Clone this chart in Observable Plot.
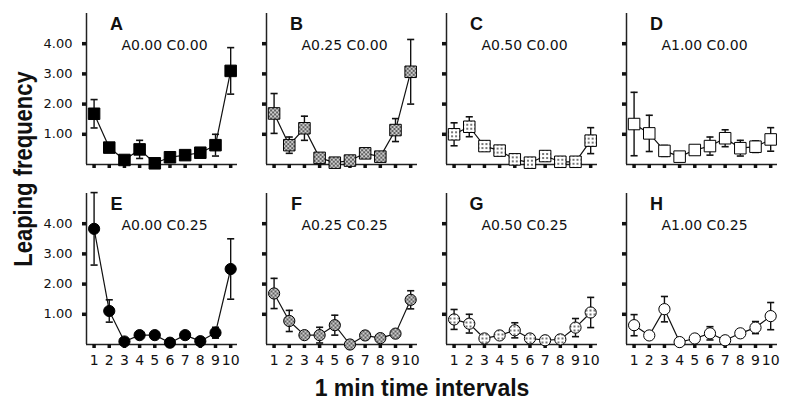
<!DOCTYPE html>
<html><head><meta charset="utf-8">
<script src="https://cdn.jsdelivr.net/npm/d3@7"></script>
<script src="https://cdn.jsdelivr.net/npm/@observablehq/plot@0.6"></script>
<style>
html,body{margin:0;padding:0;background:#fff;}
#chart{width:792px;height:408px;}
</style></head><body><div id="chart"></div>
<script>
const intervals = [1,2,3,4,5,6,7,8,9,10];
const panelLetters = ["A","B","C","D","E","F","G","H"];
const aLevels = ["0.00","0.25","0.50","1.00","0.00","0.25","0.50","1.00"];
const cLevels = ["0.00","0.00","0.00","0.00","0.25","0.25","0.25","0.25"];
const yTicks = [1,2,3,4];

const meanA = [1.68,0.56,0.15,0.50,0.04,0.24,0.31,0.39,0.64,3.10];
const errA  = [0.47,0.10,0.05,0.30,0.03,0.10,0.10,0.10,0.36,0.77];
const meanB = [1.69,0.64,1.20,0.22,0.06,0.13,0.37,0.26,1.14,3.07];
const errB  = [0.66,0.27,0.40,0.05,0.03,0.05,0.10,0.10,0.38,1.07];
const meanC = [1.00,1.25,0.61,0.46,0.17,0.06,0.28,0.09,0.09,0.79];
const errC  = [0.38,0.33,0.10,0.05,0.05,0.03,0.10,0.03,0.03,0.43];
const meanD = [1.34,1.03,0.45,0.26,0.48,0.61,0.87,0.54,0.59,0.83];
const errD  = [1.05,0.60,0.18,0.10,0.10,0.30,0.28,0.26,0.19,0.39];
const meanE = [3.83,1.11,0.10,0.31,0.31,0.06,0.31,0.11,0.39,2.50];
const errE  = [1.20,0.37,0.05,0.10,0.10,0.03,0.10,0.05,0.18,1.00];
const meanF = [1.69,0.78,0.31,0.31,0.64,0.00,0.30,0.21,0.36,1.48];
const errF  = [0.50,0.35,0.05,0.26,0.33,0.03,0.05,0.05,0.10,0.30];
const meanG = [0.83,0.69,0.20,0.30,0.47,0.20,0.14,0.17,0.56,1.06];
const errG  = [0.33,0.31,0.05,0.05,0.25,0.05,0.05,0.05,0.30,0.50];
const meanH = [0.64,0.30,1.17,0.08,0.20,0.37,0.14,0.37,0.56,0.94];
const errH  = [0.35,0.05,0.42,0.03,0.05,0.22,0.05,0.05,0.20,0.45];

const yLabel = "Leaping frequency";
const xLabel = "1 min time intervals";

const means = [meanA,meanB,meanC,meanD,meanE,meanF,meanG,meanH];
const errs = [errA,errB,errC,errD,errE,errF,errG,errH];

const table = [];
panelLetters.forEach((p,i) => intervals.forEach((t,j) => table.push({
  panel: p, a: aLevels[i], c: cLevels[i], t, mean: means[i][j], err: errs[i][j]
})));
const panels = panelLetters.map((p,i) => ({panel: p, a: aLevels[i], c: cLevels[i], label: `A${aLevels[i]} C${cLevels[i]}`}));

const fillByA = {"0.00": "#000", "0.25": "url(#pat-checker)", "0.50": "url(#pat-dots)", "1.00": "#fff"};
const capSymbol = {draw(ctx, size) { const w = Math.sqrt(size) / 2; ctx.moveTo(-w, 0); ctx.lineTo(w, 0); }};
const F = {fx: "a", fy: "c"};

const chart = Plot.plot({
  width: 792, height: 408,
  marginLeft: 86, marginRight: 14, marginTop: 13, marginBottom: 63,
  style: {fontFamily: "'DejaVu Sans', sans-serif", color: "#111", background: "#fff"},
  fx: {domain: ["0.00","0.25","0.50","1.00"], paddingInner: 0.16, paddingOuter: 0, axis: null, label: null},
  fy: {domain: ["0.00","0.25"], paddingInner: 0.16, paddingOuter: 0, axis: null, label: null},
  x: {domain: [0.5, 10.45]},
  y: {domain: [0, 5]},
  marks: [
    Plot.ruleY([0], {stroke: "#222", strokeWidth: 1.5}),
    Plot.ruleX([0.5], {stroke: "#222", strokeWidth: 1.5}),
    Plot.axisY({ticks: yTicks, tickSize: 4, strokeWidth: 3.5, fill: null, label: null, facetAnchor: null}),
    Plot.axisY({ticks: yTicks, tickSize: 0, tickPadding: 14, tickFormat: d3.format(".2f"), fontSize: 13, label: null, facetAnchor: "left"}),
    Plot.axisX({ticks: intervals, tickSize: 4, strokeWidth: 3.5, fill: null, label: null, facetAnchor: null}),
    Plot.axisX({ticks: intervals, tickSize: 0, tickPadding: 11, fontSize: 14, label: null, facetAnchor: "bottom"}),
    Plot.line(table, {x: "t", y: "mean", z: "panel", ...F, stroke: "#111", strokeWidth: 1.2}),
    Plot.ruleX(table, {x: "t", y1: d => d.mean - d.err, y2: d => d.mean + d.err, ...F, stroke: "#111", strokeWidth: 1.4}),
    Plot.dot(table, {x: "t", y: d => d.mean + d.err, ...F, symbol: capSymbol, r: 4, fill: "none", stroke: "#111", strokeWidth: 1.6}),
    Plot.dot(table, {x: "t", y: d => d.mean - d.err, ...F, symbol: capSymbol, r: 4, fill: "none", stroke: "#111", strokeWidth: 1.6}),
    Plot.dot(table, {filter: d => d.c === "0.00", x: "t", y: "mean", ...F, symbol: "square", r: 6.5, fill: d => fillByA[d.a], stroke: "#000", strokeWidth: 1}),
    Plot.dot(table, {filter: d => d.c === "0.25", x: "t", y: "mean", ...F, symbol: "circle", r: 5.6, fill: d => fillByA[d.a], stroke: "#000", strokeWidth: 1}),
    Plot.text(panels, {...F, text: "panel", frameAnchor: "top-left", dx: 30, dy: 11, textAnchor: "middle", lineAnchor: "middle", fontSize: 18, fontWeight: "bold", fontFamily: "'Liberation Sans', Arial, sans-serif"}),
    Plot.text(panels, {...F, text: "label", frameAnchor: "top-left", dx: 78, dy: 32, textAnchor: "middle", lineAnchor: "middle", fontSize: 14})
  ]
});

const svg = d3.select(chart);
const defs = svg.insert("defs", ":first-child");
const pc = defs.append("pattern").attr("id", "pat-checker").attr("patternUnits", "userSpaceOnUse").attr("width", 4).attr("height", 4);
pc.append("rect").attr("width", 4).attr("height", 4).attr("fill", "#cfcfcf");
pc.append("rect").attr("width", 2).attr("height", 2).attr("fill", "#5e5e5e");
pc.append("rect").attr("x", 2).attr("y", 2).attr("width", 2).attr("height", 2).attr("fill", "#5e5e5e");
const pd = defs.append("pattern").attr("id", "pat-dots").attr("patternUnits", "userSpaceOnUse").attr("width", 4).attr("height", 4);
pd.append("rect").attr("width", 4).attr("height", 4).attr("fill", "#fff");
pd.append("circle").attr("cx", 2).attr("cy", 2).attr("r", 0.9).attr("fill", "#333");

svg.append("text")
  .attr("transform", "translate(32,169) scale(1.2,1) rotate(-90)")
  .attr("text-anchor", "middle")
  .attr("font-family", "'Liberation Sans', Arial, sans-serif")
  .attr("font-weight", "bold").attr("font-size", 22).attr("fill", "#111")
  .text(yLabel);
svg.append("text")
  .attr("x", 422).attr("y", 396)
  .attr("text-anchor", "middle")
  .attr("font-family", "'Liberation Sans', Arial, sans-serif")
  .attr("font-weight", "bold").attr("font-size", 23).attr("fill", "#111")
  .text(xLabel);

document.getElementById("chart").appendChild(chart);
</script></body></html>
